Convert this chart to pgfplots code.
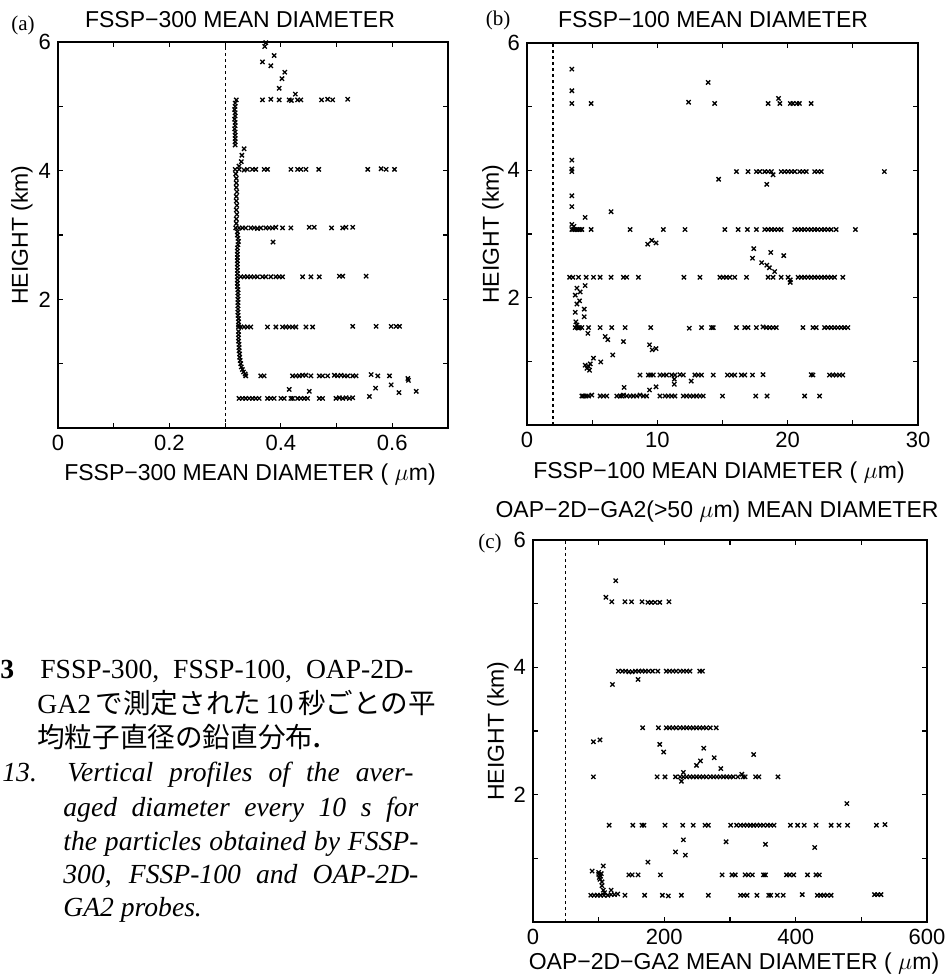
\documentclass[border=0pt]{standalone}
\usepackage{fontspec}
\usepackage{pgfplots}
\pgfplotsset{compat=1.18}
\setmainfont{Liberation Sans}
\newfontfamily\serif{Liberation Serif}
\newfontfamily\cjk{Noto Sans CJK JP}
\begin{document}
\begin{tikzpicture}
\useasboundingbox (0,0) rectangle (475.5pt,490pt);
\pgfplotsset{
  myaxis/.style={
    scale only axis, anchor=south west,
    ymin=0, ymax=6, ytick={2,4,6}, minor ytick={1,3,5},
    tick align=inside, xtick pos=both, ytick pos=both,
    major tick length=2.5pt, minor tick length=2.5pt,
    axis line style={line width=0.8pt},
    every tick/.style={line width=0.6pt,black},
    tick label style={font=\fontsize{11}{13}\selectfont},
    /pgf/number format/assume math mode=true,
    ylabel={HEIGHT (km)},
    every axis y label/.style={at={(axis description cs:0,0.5)}, rotate=90, anchor=center, font=\fontsize{11.5}{13}\selectfont},
    every axis x label/.style={at={(axis description cs:0.5,0)}, anchor=center, font=\fontsize{11.5}{13}\selectfont},
    every axis title/.style={at={(axis description cs:0.5,1)}, anchor=center, font=\fontsize{11.5}{13}\selectfont},
  },
  dat/.style={only marks, mark=x, mark size=1.5pt, line width=0.65pt, black},
  lim/.style={black, line width=0.6pt, dash pattern=on 1.5pt off 1.5pt},
}
% ---------------- (a) ----------------
\begin{axis}[myaxis, at={(29pt,276pt)}, width=195pt, height=193pt,
  xmin=0, xmax=0.7, xtick={0,0.2,0.4,0.6}, minor xtick={0.1,0.3,0.5},
  title={FSSP−300 MEAN DIAMETER}, title style={xshift=-6.5pt, yshift=11pt},
  xlabel={FSSP−300 MEAN DIAMETER ( $\mu$m)}, xlabel style={xshift=-1.5pt, yshift=-23.5pt},
  ylabel style={yshift=18pt}]
\addplot[lim] coordinates {(0.3,0) (0.3,6)};
\addplot[dat] coordinates {
(0.373,5.99)(0.371,5.93)(0.388,5.79)(0.367,5.69)(0.382,5.63)(0.407,5.53)(0.402,5.43)(0.397,5.28)(0.426,5.19)
(0.320,5.10)(0.367,5.10)(0.382,5.11)(0.397,5.10)(0.415,5.10)(0.419,5.09)(0.430,5.10)(0.436,5.10)(0.473,5.10)(0.484,5.11)(0.493,5.10)(0.520,5.11)
(0.318,5.05)(0.318,5.00)(0.317,4.95)(0.318,4.90)(0.318,4.85)(0.317,4.80)(0.318,4.75)(0.318,4.70)(0.317,4.65)(0.318,4.60)(0.318,4.55)(0.318,4.50)(0.318,4.45)(0.318,4.40)
(0.334,4.34)(0.330,4.24)(0.329,4.14)(0.325,4.07)
(0.318,4.02)(0.325,4.02)(0.334,4.01)(0.340,4.02)(0.349,4.02)(0.355,4.02)(0.370,4.02)(0.376,4.02)(0.418,4.02)(0.430,4.02)(0.436,4.02)(0.445,4.02)(0.468,4.02)(0.556,4.02)(0.580,4.03)(0.589,4.02)(0.604,4.02)
(0.319,3.95)(0.320,3.88)(0.320,3.81)(0.320,3.74)(0.321,3.67)(0.320,3.60)(0.320,3.53)(0.321,3.46)(0.320,3.39)(0.321,3.32)(0.320,3.25)(0.320,3.18)
(0.319,3.11)(0.325,3.11)(0.331,3.11)(0.337,3.11)(0.346,3.11)(0.352,3.11)(0.358,3.10)(0.364,3.11)(0.373,3.11)(0.379,3.11)(0.385,3.11)(0.391,3.12)(0.403,3.11)(0.418,3.11)(0.451,3.12)(0.460,3.12)(0.491,3.11)(0.511,3.11)(0.517,3.12)(0.529,3.12)
(0.386,2.89)
(0.322,3.05)(0.322,3.00)(0.323,2.95)(0.324,2.90)(0.323,2.85)(0.322,2.80)(0.322,2.75)(0.322,2.70)(0.322,2.65)(0.322,2.60)(0.322,2.55)(0.322,2.50)(0.322,2.45)(0.322,2.40)(0.322,2.30)(0.322,2.25)(0.322,2.20)(0.323,2.15)(0.323,2.10)(0.323,2.05)(0.323,2.00)(0.323,1.95)(0.323,1.90)(0.323,1.85)(0.323,1.80)(0.323,1.75)(0.324,1.70)(0.324,1.65)(0.324,1.60)(0.324,1.50)(0.324,1.45)(0.324,1.40)(0.324,1.35)(0.325,1.30)(0.325,1.25)(0.325,1.20)(0.326,1.15)(0.326,1.10)(0.327,1.05)(0.328,1.00)(0.329,0.95)(0.331,0.91)(0.333,0.87)(0.336,0.84)
(0.322,2.35)(0.328,2.35)(0.334,2.35)(0.340,2.35)(0.346,2.35)(0.352,2.35)(0.358,2.35)(0.367,2.35)(0.373,2.35)(0.382,2.35)(0.391,2.35)(0.397,2.35)(0.403,2.35)(0.439,2.35)(0.454,2.35)(0.469,2.35)(0.505,2.36)(0.511,2.36)(0.553,2.36)
(0.324,1.57)(0.328,1.57)(0.334,1.57)(0.340,1.57)(0.346,1.57)(0.376,1.57)(0.391,1.57)(0.403,1.57)(0.409,1.57)(0.415,1.57)(0.421,1.57)(0.427,1.57)(0.445,1.57)(0.457,1.57)(0.529,1.58)(0.571,1.58)(0.598,1.58)(0.607,1.58)(0.613,1.58)
(0.337,0.81)(0.364,0.81)(0.370,0.81)(0.421,0.81)(0.427,0.81)(0.433,0.81)(0.439,0.82)(0.445,0.82)(0.454,0.81)(0.469,0.81)(0.475,0.81)(0.484,0.81)(0.496,0.82)(0.502,0.81)(0.508,0.82)(0.514,0.81)(0.520,0.81)(0.529,0.81)(0.535,0.81)(0.562,0.83)(0.574,0.81)(0.595,0.81)
(0.628,0.77)(0.629,0.74)(0.598,0.67)(0.570,0.62)(0.643,0.57)(0.612,0.55)(0.415,0.60)(0.451,0.57)(0.559,0.49)
(0.325,0.46)(0.331,0.46)(0.337,0.46)(0.343,0.46)(0.349,0.46)(0.355,0.46)(0.361,0.46)(0.376,0.46)(0.382,0.46)(0.388,0.46)(0.400,0.46)(0.406,0.46)(0.418,0.46)(0.421,0.46)(0.430,0.46)(0.436,0.46)(0.442,0.46)(0.448,0.46)(0.469,0.46)(0.475,0.46)(0.499,0.46)(0.505,0.47)(0.511,0.46)(0.517,0.47)(0.523,0.46)(0.529,0.47)
};
\end{axis}
% ---------------- (b) ----------------
\begin{axis}[myaxis, at={(263.5pt,277.5pt)}, width=195.5pt, height=191pt,
  xmin=0, xmax=30, xtick={0,10,20,30}, minor xtick={5,15,25},
  title={FSSP−100 MEAN DIAMETER}, title style={xshift=-4.75pt, yshift=11.5pt},
  xlabel={FSSP−100 MEAN DIAMETER ( $\mu$m)}, xlabel style={xshift=-1.75pt, yshift=-24pt},
  ylabel style={yshift=17pt}]
\addplot[lim] coordinates {(2,0) (2,6)};
\addplot[dat] coordinates {
(3.44,5.59)(3.44,5.25)(3.44,5.05)(4.92,5.05)(12.4,5.07)(13.9,5.38)(14.4,5.05)
(18.5,5.05)(19.3,5.13)(19.4,5.05)(20.2,5.05)(20.4,5.05)(20.7,5.05)(20.9,5.05)(21.8,5.05)
(3.44,4.16)(3.44,4.02)(3.44,3.98)(3.44,3.60)(3.44,3.43)(4.46,3.26)(6.45,3.35)(3.44,3.15)(3.60,3.12)
(3.44,3.07)(3.57,3.07)(3.70,3.07)(3.83,3.07)(3.95,3.07)(4.08,3.07)(4.21,3.07)(4.92,3.07)(7.91,3.07)(10.46,3.07)(12.12,3.07)(15.18,3.07)(16.2,3.07)(16.91,3.07)(17.6,3.07)(18.24,3.07)(18.5,3.07)(18.75,3.07)(19.0,3.07)(19.26,3.07)(19.5,3.07)(20.54,3.07)(20.8,3.07)(21.05,3.07)(21.3,3.07)(21.56,3.07)(21.8,3.07)(22.07,3.07)(22.3,3.07)(22.58,3.07)(22.83,3.07)(23.09,3.07)(23.34,3.07)(23.72,3.07)(25.2,3.07)
(9.26,2.84)(9.57,2.90)(9.90,2.86)
(16.07,3.98)(16.96,3.98)(17.6,3.98)(17.86,3.98)(18.24,3.98)(18.5,3.98)(18.75,3.98)(18.88,3.93)(19.5,3.98)(19.77,3.98)(20.03,3.98)(20.28,3.98)(20.54,3.98)(20.92,3.98)(21.17,3.98)(21.43,3.98)(22.07,3.98)(22.32,3.98)(22.58,3.98)(27.42,3.98)
(14.7,3.86)(18.4,3.78)
(17.4,2.77)(18.7,2.71)(19.7,2.66)(17.3,2.62)(18.0,2.55)(18.4,2.51)(18.6,2.47)(19.0,2.41)(20.2,2.28)(20.2,2.24)
(3.27,2.32)(3.52,2.32)(3.95,2.32)(4.54,2.32)(5.10,2.32)(5.61,2.32)(6.45,2.32)(7.40,2.32)(7.65,2.32)(8.55,2.32)(12.04,2.32)(13.27,2.32)(14.8,2.32)(15.05,2.32)(15.3,2.32)(15.56,2.32)(15.94,2.32)(16.84,2.32)(18.5,2.32)(18.88,2.32)(19.5,2.32)(20.03,2.32)(20.8,2.32)(21.05,2.32)(21.3,2.32)(21.56,2.32)(21.8,2.32)(22.07,2.32)(22.32,2.32)(22.58,2.32)(22.83,2.32)(23.09,2.32)(23.34,2.32)(23.6,2.32)(24.23,2.32)
(3.83,2.15)(4.08,2.09)(4.46,2.19)(3.70,2.04)(4.03,1.95)(3.83,1.90)(3.70,1.77)(4.39,1.82)(4.39,1.70)(3.75,1.62)(3.83,1.57)(3.95,1.52)
(3.70,1.53)(3.88,1.53)(4.03,1.53)(4.21,1.53)(4.72,1.53)(5.61,1.53)(6.50,1.53)(7.53,1.53)(9.49,1.53)(12.45,1.52)(13.39,1.53)(14.16,1.53)(14.29,1.53)(16.07,1.53)(16.71,1.53)(16.96,1.53)(17.6,1.53)(18.11,1.54)(18.37,1.53)(18.62,1.53)(18.88,1.53)(19.13,1.53)(21.17,1.53)(21.94,1.53)(22.19,1.53)(22.83,1.53)(23.09,1.53)(23.34,1.53)(23.6,1.53)(23.85,1.53)(24.11,1.53)(24.36,1.53)(24.62,1.53)
(4.67,1.44)(6.00,1.39)(6.20,1.34)(7.40,1.31)(9.40,1.26)(9.60,1.18)(9.90,1.20)(6.58,1.10)(5.10,1.05)(5.66,0.99)(4.46,0.94)(4.72,0.92)(4.60,0.89)(4.85,0.96)(4.80,0.86)
(8.67,0.785)(9.31,0.785)(9.49,0.785)(9.69,0.785)(10.2,0.785)(10.46,0.785)(10.71,0.785)(11.1,0.785)(11.35,0.785)(11.73,0.79)(11.99,0.785)(12.88,0.785)(13.14,0.785)(13.39,0.785)(14.29,0.785)(15.38,0.785)(15.69,0.785)(15.94,0.785)(16.45,0.785)(16.71,0.785)(17.3,0.785)(18.11,0.79)(21.81,0.79)(21.94,0.785)(23.21,0.785)(23.47,0.785)(23.72,0.785)(23.98,0.785)(24.23,0.785)
(11.3,0.72)(11.3,0.64)(12.6,0.69)(7.45,0.59)(9.40,0.55)(9.90,0.60)
(4.21,0.455)(4.34,0.455)(4.54,0.455)(4.72,0.455)(4.97,0.47)(5.61,0.455)(5.87,0.455)(6.12,0.455)(6.89,0.455)(7.14,0.455)(7.27,0.455)(7.40,0.47)(7.65,0.455)(7.91,0.455)(8.16,0.455)(8.42,0.455)(8.67,0.47)(8.93,0.455)(9.18,0.455)(10.2,0.455)(10.59,0.455)(10.84,0.455)(11.1,0.455)(11.35,0.455)(11.99,0.455)(12.24,0.455)(12.5,0.455)(12.76,0.455)(13.01,0.455)(13.27,0.455)(13.52,0.455)(15.0,0.455)(17.55,0.455)(18.42,0.455)(21.3,0.455)(22.45,0.455)
};
\end{axis}
% ---------------- (c) ----------------
\begin{axis}[myaxis, at={(266.5pt,29pt)}, width=197pt, height=191pt,
  xmin=0, xmax=600, xtick={0,200,400,600}, minor xtick={100,300,500},
  title={OAP−2D−GA2(>50 $\mu$m) MEAN DIAMETER}, title style={xshift=-6.5pt, yshift=14pt},
  xlabel={OAP−2D−GA2 MEAN DIAMETER ( $\mu$m)}, xlabel style={xshift=2pt, yshift=-21pt},
  ylabel style={yshift=17.5pt}]
\addplot[lim] coordinates {(50,0) (50,6)};
\addplot[dat] coordinates {
(126,5.36)(111,5.10)(120,5.03)(140,5.03)(150,5.03)(166,5.03)(175,5.02)(180,5.02)(186,5.02)(193,5.02)(207,5.03)
(130,3.94)(136,3.94)(141,3.94)(146,3.93)(151,3.93)(156,3.94)(161,3.94)(166,3.94)(171,3.94)(176,3.94)(182,3.94)(190,3.94)(203,3.94)(208,3.94)(213,3.94)(218,3.94)(224,3.94)(229,3.94)(234,3.94)(239,3.94)(254,3.94)(258,3.94)
(160,3.81)(121,3.73)
(167,3.05)(191,3.05)(203,3.05)(208,3.05)(213,3.05)(218,3.05)(224,3.05)(229,3.05)(234,3.05)(239,3.05)(244,3.05)(249,3.05)(254,3.05)(259,3.05)(264,3.05)(270,3.05)(279,3.05)
(92,2.83)(102,2.86)(193,2.79)(199,2.67)(260,2.73)(276,2.58)(255,2.53)(249,2.46)(286,2.41)(336,2.63)(229,2.35)(226,2.21)
(92,2.28)(189,2.28)(201,2.28)(217,2.28)(224,2.28)(229,2.28)(234,2.28)(239,2.28)(244,2.28)(249,2.28)(254,2.28)(259,2.28)(264,2.28)(270,2.28)(275,2.28)(280,2.28)(285,2.28)(290,2.28)(295,2.28)(300,2.28)(305,2.28)(312,2.28)(318,2.32)(320,2.28)(323,2.28)(339,2.28)(344,2.28)(373,2.28)
(478,1.86)
(116,1.52)(152,1.52)(166,1.52)(169,1.52)(201,1.52)(228,1.52)(244,1.52)(262,1.52)(267,1.52)(301,1.52)(310,1.52)(316,1.52)(321,1.52)(326,1.52)(331,1.52)(336,1.52)(341,1.52)(346,1.52)(351,1.52)(357,1.52)(362,1.52)(367,1.52)(392,1.52)(403,1.52)(413,1.52)(431,1.52)(454,1.52)(466,1.52)(479,1.52)(523,1.52)(536,1.53)
(229,1.29)(294,1.26)(354,1.22)(429,1.17)(217,1.10)(232,1.05)(175,0.94)
(90,0.80)(107,0.88)(100,0.75)(103,0.72)(102,0.67)(105,0.63)(105,0.57)(107,0.50)(119,0.50)(109,0.46)(100,0.78)(104,0.76)(101,0.70)
(146,0.74)(151,0.74)(160,0.74)(194,0.74)(288,0.74)(303,0.74)(308,0.74)(323,0.74)(328,0.74)(334,0.74)(351,0.74)(354,0.74)(386,0.74)(391,0.74)(397,0.74)(418,0.74)(431,0.74)(436,0.74)
(88,0.42)(93,0.42)(98,0.42)(103,0.42)(108,0.42)(114,0.42)(119,0.43)(124,0.43)(129,0.44)(140,0.42)(170,0.42)(197,0.42)(206,0.41)(226,0.42)(267,0.42)(316,0.42)(321,0.42)(326,0.42)(341,0.42)(359,0.42)(362,0.42)(372,0.42)(381,0.42)(410,0.43)(433,0.42)(438,0.42)(443,0.42)(448,0.42)(454,0.42)(520,0.43)(525,0.43)(530,0.43)
};
\end{axis}
% panel letters
\node[anchor=center, font=\serif\fontsize{10.5}{12}\selectfont] at (11.5pt,477.5pt) {(a)};
\node[anchor=center, font=\serif\fontsize{10.5}{12}\selectfont] at (249pt,480pt) {(b)};
\node[anchor=center, font=\serif\fontsize{10.5}{12}\selectfont] at (245pt,218.5pt) {(c)};
% caption
\begin{scope}[every node/.style={anchor=base west, inner sep=0pt, font=\serif\fontsize{13.8}{16}\selectfont}]
\node at (0pt,150.5pt) {\textbf{3}};
\node at (20pt,150.5pt) {\makebox[186.5pt][s]{FSSP-300, FSSP-100, OAP-2D-}};
\node at (18.5pt,133pt) {GA2\,{\cjk で測定された}\,10\,{\cjk 秒ごとの平}};
\node at (18.5pt,116pt) {{\cjk 均粒子直径の鉛直分布}\textbf{.}};
\node at (1pt,99pt) {\itshape 13.};
\node at (33.5pt,99pt) {\itshape\makebox[173pt][s]{Vertical profiles of the aver-}};
\node at (31.5pt,81.5pt) {\itshape\makebox[177.5pt][s]{aged diameter every 10 s for}};
\node at (31.5pt,64.5pt) {\itshape\makebox[177.5pt][s]{the particles obtained by FSSP-}};
\node at (31.5pt,48pt) {\itshape\makebox[177.5pt][s]{300, FSSP-100 and OAP-2D-}};
\node at (31.5pt,31.5pt) {\itshape GA2 probes.};
\end{scope}
\end{tikzpicture}
\end{document}
